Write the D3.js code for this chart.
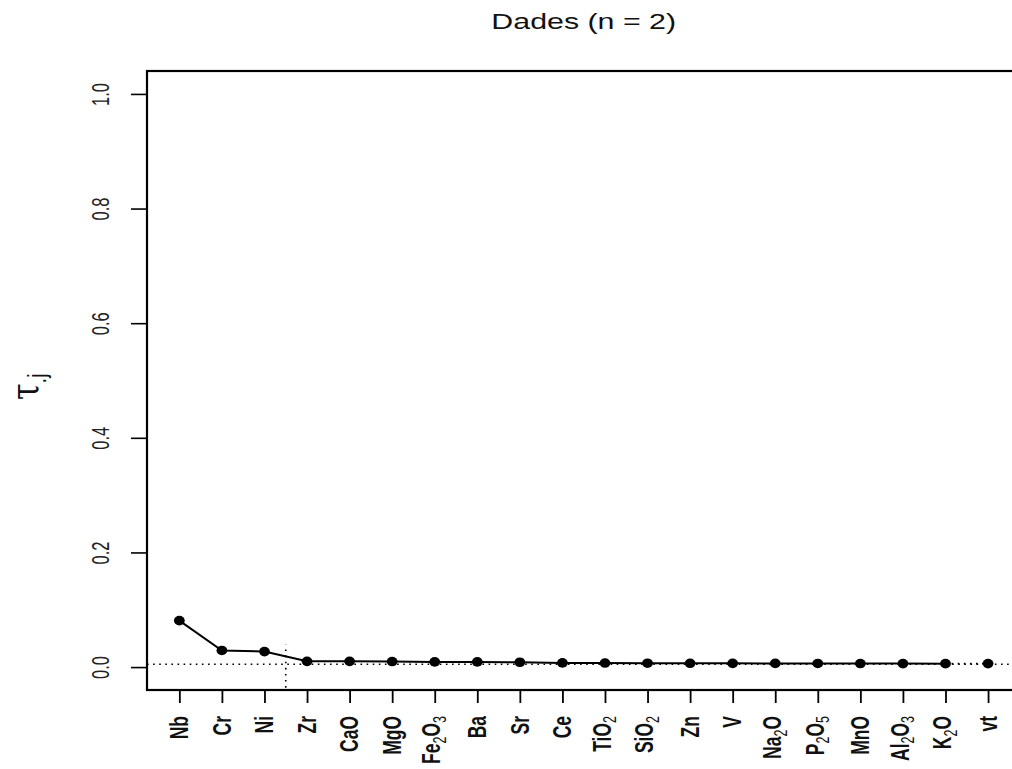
<!DOCTYPE html>
<html>
<head>
<meta charset="utf-8">
<script src="https://cdn.jsdelivr.net/npm/d3@7"></script>
<style>
  html, body { margin: 0; padding: 0; background: #fff; }
  svg { display: block; }
</style>
</head>
<body>
<svg id="chart" width="1012" height="769"></svg>
<script>
// ---- data ----
const titleText = "Dades (n = 2)";
const categories = ["Nb","Cr","Ni","Zr","CaO","MgO","Fe2O3","Ba","Sr","Ce",
                    "TiO2","SiO2","Zn","V","Na2O","P2O5","MnO","Al2O3","K2O","vt"];
const tauValues = [0.081,0.029,0.027,0.010,0.010,0.0096,0.0090,0.0090,0.0084,0.0073,
                   0.0070,0.0068,0.0066,0.0065,0.0064,0.0063,0.0062,0.0061,0.0060,0.0061];
const yTicks = [0, 0.2, 0.4, 0.6, 0.8, 1.0];
const yTickLabels = ["0.0","0.2","0.4","0.6","0.8","1.0"];
const refLineValue = 0.005;
const cutPosition = 3.5;
const cutExtent = [-0.036, 0.039];

// ---- layout ----
const W = 1012, H = 769;
const svg = d3.select("#chart");
svg.append("rect").attr("width", W).attr("height", H).attr("fill", "#fff");

const plotLeft = 147, plotRight = 1020.4, plotTop = 71, plotBottom = 690;
const n = categories.length;
const pad = (n - 1) * 0.04;
const x = d3.scaleLinear().domain([1 - pad, n + pad]).range([plotLeft, plotRight]);
const y = d3.scaleLinear().domain([-0.04, 1.04]).range([plotBottom, plotTop]);

// title
svg.append("text")
  .attr("transform", `translate(${(plotLeft + plotRight) / 2},29) scale(1.38,1)`)
  .attr("text-anchor", "middle")
  .attr("font-family", "'Liberation Sans', Arial, sans-serif")
  .attr("font-size", 22)
  .attr("fill", "#111")
  .text(titleText);

// y axis
const yAxis = svg.append("g")
  .attr("transform", `translate(${plotLeft},0)`)
  .call(d3.axisLeft(y).tickValues(yTicks).tickSize(16).tickFormat((d, i) => yTickLabels[i]));
yAxis.select(".domain").remove();
yAxis.selectAll(".tick line").attr("stroke", "#000").attr("stroke-width", 1.6);
yAxis.selectAll(".tick text")
  .attr("x", null).attr("dy", null)
  .attr("transform", `translate(-47,0) scale(1.45,1) rotate(-90)`)
  .attr("text-anchor", "middle")
  .attr("dominant-baseline", "central")
  .attr("font-family", "'Liberation Sans', Arial, sans-serif")
  .attr("font-size", 16.5)
  .attr("fill", "#222");

// x axis
const xAxis = svg.append("g")
  .attr("transform", `translate(0,${plotBottom})`)
  .call(d3.axisBottom(x).tickValues(d3.range(1, n + 1)).tickSize(13).tickFormat(""));
xAxis.select(".domain").remove();
xAxis.selectAll(".tick line").attr("stroke", "#000").attr("stroke-width", 1.8);
xAxis.selectAll(".tick text").remove();

const labelG = svg.append("g");
categories.forEach((c, i) => {
  const parts = c.split(/(\d)/).filter(s => s.length);
  const hasSub = parts.some(p => /\d/.test(p));
  const t = labelG.append("text")
    .attr("transform", `translate(${x(i + 1) + (hasSub ? -3 : 0)},716) scale(1.45,1) rotate(-90)`)
    .attr("text-anchor", "end")
    .attr("y", 6)
    .attr("font-family", "'Liberation Sans', Arial, sans-serif")
    .attr("font-weight", "bold")
    .attr("font-size", 17.5)
    .attr("fill", "#111");
  let shifted = false;
  parts.forEach(p => {
    if (/\d/.test(p)) {
      t.append("tspan").attr("font-size", 12.5).attr("font-weight", "normal").attr("dy", 4).text(p);
      shifted = true;
    } else {
      const ts = t.append("tspan").text(p);
      if (shifted) { ts.attr("dy", -4); shifted = false; }
    }
  });
});

// y label tau_.j
const yl = svg.append("text")
  .attr("transform", `translate(38,400) scale(1.3,1) rotate(-90)`)
  .attr("text-anchor", "start")
  .attr("fill", "#111");
yl.append("tspan").attr("font-family", "'DejaVu Serif', 'Liberation Serif', serif").attr("font-size", 30).text("τ");
yl.append("tspan").attr("font-family", "'Liberation Sans', Arial, sans-serif").attr("font-size", 20).attr("dy", 6).text(".j");

// reference dotted lines
svg.append("line")
  .attr("x1", plotLeft).attr("x2", plotRight)
  .attr("y1", y(refLineValue)).attr("y2", y(refLineValue))
  .attr("stroke", "#000").attr("stroke-width", 1.6).attr("stroke-dasharray", "1.6,4.5");
svg.append("line")
  .attr("x1", x(cutPosition)).attr("x2", x(cutPosition))
  .attr("y1", y(cutExtent[0])).attr("y2", y(cutExtent[1]))
  .attr("stroke", "#000").attr("stroke-width", 1.6).attr("stroke-dasharray", "1.6,4.5");

// data line
const pts = tauValues.map((v, i) => [x(i + 1), y(v)]);
const line = d3.line();
svg.append("path").attr("d", line(pts.slice(0, n - 1)))
  .attr("fill", "none").attr("stroke", "#000").attr("stroke-width", 2);
svg.append("path").attr("d", line(pts.slice(n - 2)))
  .attr("fill", "none").attr("stroke", "#000").attr("stroke-width", 1.8).attr("stroke-dasharray", "1.6,4.5");

svg.append("g").selectAll("ellipse").data(tauValues).join("ellipse")
  .attr("cx", (d, i) => x(i + 1)).attr("cy", d => y(d))
  .attr("rx", 5.4).attr("ry", 4.8).attr("fill", "#000");

// box
svg.append("rect")
  .attr("x", plotLeft).attr("y", plotTop)
  .attr("width", plotRight - plotLeft).attr("height", plotBottom - plotTop)
  .attr("fill", "none").attr("stroke", "#000").attr("stroke-width", 2.2);
</script>
</body>
</html>
